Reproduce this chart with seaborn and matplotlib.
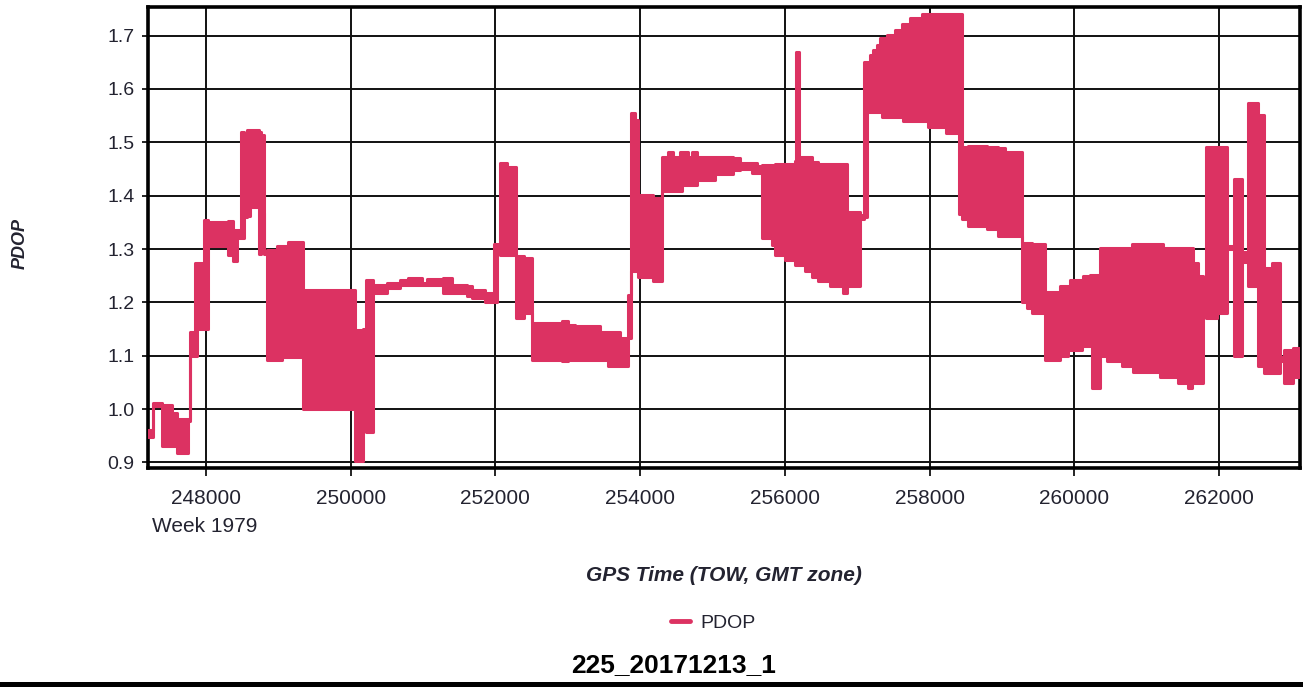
import numpy as np
import pandas as pd
import matplotlib
matplotlib.use("Agg")
import matplotlib.pyplot as plt
from matplotlib.patches import Rectangle
from matplotlib.lines import Line2D
import seaborn as sns

# GPS time of week (s) where each PDOP interval starts; the last interval ends at TOW_END
tow = [
    247203, 247272, 247387, 247526, 247595, 247756, 247779, 247848, 247880, 247973,
    248032, 248309, 248378, 248433, 248479, 248525, 248562, 248608, 248733, 248756,
    248802, 248839, 248977, 249046, 249138, 249345, 250060, 250166, 250212,
    250312, 250496, 250681, 250796, 250980, 251049, 251280, 251395, 251602, 251671,
    251855, 251980, 252017, 252063, 252155, 252284, 252394, 252500, 252915, 253007,
    253099, 253445,
    253560, 253721, 253837, 253869, 253929, 253975, 254182, 254297, 254389, 254458,
    254550, 254574, 254666, 254712, 254781, 255034, 255288, 255380, 255541, 255610,
    255679, 255818, 255864, 256002, 256140, 256154, 256200, 256278, 256370, 256463,
    256624, 256808, 256854, 257039, 257099, 257140, 257177, 257223, 257269, 257315,
    257338, 257407, 257522, 257615, 257638, 257730, 257891, 257983, 258227, 258412,
    258444, 258536, 258789, 258950, 259043, 259273, 259342, 259411, 259596, 259803,
    259917, 259940, 260101, 260124, 260217, 260240, 260355, 260447, 260654, 260793,
    260815, 261184, 261230, 261438, 261576, 261622, 261645, 261714, 261783, 261820,
    261967, 262106, 262207, 262313, 262405, 262543, 262621, 262727, 262843, 262898,
    263027, 263110,
]
TOW_END = 263119

# lowest PDOP reached inside each interval
pdop_low = [
    0.948, 1.005, 0.930, 0.930, 0.917, 0.977, 1.100, 1.100, 1.150, 1.150,
    1.305, 1.289, 1.277, 1.320, 1.320, 1.360, 1.361, 1.379, 1.290, 1.367,
    1.290, 1.092, 1.092, 1.098, 1.098, 1.000, 0.902, 1.105, 0.958,
    1.217, 1.227, 1.233, 1.233, 1.233, 1.233, 1.217, 1.217, 1.212, 1.208,
    1.200, 1.200, 1.300, 1.289, 1.289, 1.170, 1.180, 1.092, 1.090, 1.092,
    1.092, 1.092,
    1.080, 1.080, 1.133, 1.258, 1.258, 1.248, 1.240, 1.408, 1.408, 1.408,
    1.408, 1.420, 1.420, 1.420, 1.430, 1.440, 1.448, 1.450, 1.442, 1.442,
    1.320, 1.308, 1.289, 1.280, 1.270, 1.270, 1.270, 1.258, 1.248, 1.240,
    1.230, 1.217, 1.230, 1.357, 1.360, 1.557, 1.557, 1.557, 1.557, 1.557,
    1.548, 1.548, 1.548, 1.548, 1.540, 1.540, 1.540, 1.528, 1.517, 1.365,
    1.357, 1.343, 1.337, 1.325, 1.325, 1.200, 1.190, 1.180, 1.092, 1.099,
    1.110, 1.110, 1.118, 1.118, 1.118, 1.039, 1.099, 1.091, 1.080, 1.080,
    1.069, 1.061, 1.061, 1.049, 1.039, 1.049, 1.049, 1.049, 1.225, 1.170,
    1.180, 1.300, 1.099, 1.275, 1.230, 1.080, 1.067, 1.067, 1.090, 1.049,
    1.061, 1.112,
]

# highest PDOP reached inside each interval
pdop_high = [
    0.960, 1.011, 1.008, 0.992, 0.981, 0.981, 1.145, 1.273, 1.273, 1.355,
    1.351, 1.352, 1.336, 1.336, 1.520, 1.435, 1.523, 1.523, 1.520, 1.513,
    1.293, 1.298, 1.305, 1.305, 1.314, 1.223, 1.148, 1.150, 1.242,
    1.233, 1.236, 1.242, 1.246, 1.237, 1.243, 1.245, 1.233, 1.230, 1.223,
    1.217, 1.310, 1.310, 1.461, 1.454, 1.286, 1.283, 1.162, 1.165, 1.158,
    1.155, 1.145,
    1.145, 1.133, 1.214, 1.554, 1.542, 1.401, 1.395, 1.473, 1.482, 1.473,
    1.482, 1.482, 1.473, 1.482, 1.473, 1.473, 1.470, 1.462, 1.462, 1.456,
    1.457, 1.457, 1.460, 1.460, 1.464, 1.670, 1.473, 1.473, 1.463, 1.460,
    1.460, 1.460, 1.370, 1.363, 1.651, 1.651, 1.664, 1.673, 1.682, 1.695,
    1.695, 1.701, 1.711, 1.722, 1.722, 1.732, 1.741, 1.741, 1.741, 1.741,
    1.492, 1.493, 1.492, 1.489, 1.482, 1.312, 1.312, 1.310, 1.220, 1.231,
    1.231, 1.242, 1.242, 1.250, 1.252, 1.252, 1.301, 1.301, 1.301, 1.310,
    1.310, 1.310, 1.301, 1.301, 1.301, 1.301, 1.273, 1.250, 1.232, 1.492,
    1.492, 1.305, 1.432, 1.295, 1.573, 1.551, 1.264, 1.273, 1.098, 1.111,
    1.114, 1.114,
]

x_ticks = [248000, 250000, 252000, 254000, 256000, 258000, 260000, 262000]
y_ticks = [0.9, 1.0, 1.1, 1.2, 1.3, 1.4, 1.5, 1.6, 1.7]

assert len(tow) == len(pdop_low) == len(pdop_high)

LINE_COLOR = "#DC3262"
TEXT_COLOR = "#232330"

sns.set_style("white")
plt.rcParams["font.family"] = ["Liberation Sans", "DejaVu Sans"]

edges = np.array(tow + [TOW_END], dtype=float)
low = np.array(pdop_low)
high = np.array(pdop_high)

# step outline: repeat the final value so the last interval reaches TOW_END
df = pd.DataFrame({
    "tow": edges,
    "low": np.append(low, low[-1]),
    "high": np.append(high, high[-1]),
})

fig = plt.figure(figsize=(13.03, 6.87), dpi=100)
ax = fig.add_axes([0.1138, 0.3183, 0.8839, 0.6719])

# the band covered by the fast PDOP oscillation within each interval
ax.bar(edges[:-1], high - low, width=np.diff(edges), bottom=low, align="edge",
       color=LINE_COLOR, linewidth=0, antialiased=False, zorder=3)
sns.lineplot(data=df, x="tow", y="high", ax=ax, color=LINE_COLOR, linewidth=2.2,
             drawstyle="steps-post", sort=False, estimator=None, zorder=4)
sns.lineplot(data=df, x="tow", y="low", ax=ax, color=LINE_COLOR, linewidth=2.2,
             drawstyle="steps-post", sort=False, estimator=None, zorder=4)

ax.set_xlim(247203, TOW_END)
ax.set_ylim(0.889, 1.754)
ax.set_xticks(x_ticks)
ax.set_yticks(y_ticks)
ax.set_xticklabels([str(v) for v in x_ticks])
ax.set_yticklabels([f"{v:.1f}" for v in y_ticks])

ax.grid(True, color="#111111", linewidth=1.4, zorder=1)
ax.set_axisbelow(True)
for sp in ax.spines.values():
    sp.set_color("black")
    sp.set_linewidth(2.6)
    sp.set_visible(True)

ax.tick_params(axis="x", direction="out", length=6, width=1.2, color="black",
               pad=9, labelsize=15, labelcolor=TEXT_COLOR, bottom=True)
ax.tick_params(axis="y", direction="out", length=4, width=1.2, color="black",
               pad=6, labelsize=14, labelcolor=TEXT_COLOR, left=True)

ax.set_xlabel("GPS Time (TOW, GMT zone)", fontsize=15, fontweight="bold",
              fontstyle="italic", color=TEXT_COLOR, va="center")
ax.xaxis.set_label_coords(0.5, -0.232)
ax.set_ylabel("PDOP", fontsize=13, fontweight="bold", fontstyle="italic",
              color=TEXT_COLOR, va="center")
ax.yaxis.set_label_coords(-0.111, 0.487)

fig.text(205 / 1303, 1 - 526 / 687, "Week 1979", fontsize=15, color=TEXT_COLOR,
         ha="center", va="center")

handle = Line2D([], [], color=LINE_COLOR, linewidth=3.5)
ax.legend(handles=[handle], labels=["PDOP"], loc="center",
          bbox_to_anchor=(713 / 1303, 1 - 623 / 687), bbox_transform=fig.transFigure,
          frameon=False, fontsize=14, handlelength=1.0, handletextpad=0.5,
          labelcolor=TEXT_COLOR)

fig.text(674 / 1303, 1 - 665 / 687, "225_20171213_1", fontsize=19, fontweight="bold",
         color="black", ha="center", va="center")

# black strip along the bottom edge
fig.patches.append(Rectangle((0, 0), 1, 5 / 687, transform=fig.transFigure,
                             facecolor="black", edgecolor="none", zorder=5))

fig.savefig("out.png", dpi=100, facecolor="white")
